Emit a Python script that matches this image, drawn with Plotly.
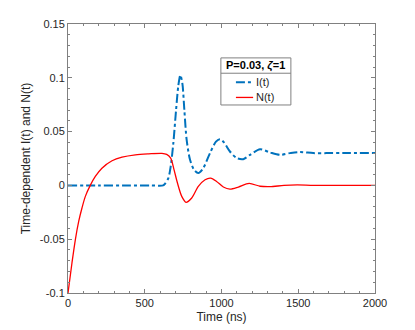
import plotly.graph_objects as go

# Time (ns) and values for N(t)
t_N = [0, 26, 48, 70, 91, 113, 145, 178, 221, 287, 352, 439, 526, 612, 643, 669, 691, 713,
       741, 769, 806, 849, 893, 929, 968, 1012, 1055, 1110, 1180, 1251, 1316, 1407, 1493,
       1600, 1800, 2000]
N_vals = [-0.1, -0.0719, -0.0503, -0.0333, -0.021, -0.0102, 0.0, 0.0083, 0.016, 0.0229,
          0.0262, 0.0284, 0.0293, 0.0298, 0.0288, 0.0254, 0.0145, 0.0022,
          -0.0102, -0.0157, -0.0117, -0.0009, 0.0053, 0.0068, 0.0037, -0.0015, -0.0034,
          -0.0015, 0.0018, -0.0008, -0.0012, 0.0, 0.0004, 0.0, 0.0, 0.0]

# Time (ns) and values for I(t)
t_I = [0, 200, 400, 534, 620, 632, 654, 669, 686, 704, 719, 732, 745, 758, 773, 795, 821,
       849, 881, 925, 964, 990, 1016, 1055, 1099, 1142, 1186, 1251, 1316, 1381, 1446,
       1511, 1598, 1685, 1800, 2000]
I_vals = [0.0, 0.0, 0.0, 0.0, 0.0, 0.0015, 0.0068, 0.0176, 0.039, 0.070, 0.093, 0.1025,
          0.0948, 0.070, 0.0423, 0.0238, 0.0145, 0.0115, 0.016, 0.030, 0.0407, 0.043,
          0.040, 0.0315, 0.0254, 0.0244, 0.0284, 0.0335, 0.0306, 0.0284, 0.030,
          0.031, 0.030, 0.030, 0.030, 0.030]

x_ticks = [0, 500, 1000, 1500, 2000]
y_ticks = [-0.1, -0.05, 0, 0.05, 0.1, 0.15]
y_tick_labels = ["-0.1", "-0.05", "0", "0.05", "0.1", "0.15"]

series_names = ["I(t)", "N(t)"]
series_colors = ["#0072BD", "#FF0000"]
legend_title = "<b>P=0.03, <i>ζ</i>=1</b>"

FONT = "Liberation Sans, Arial, sans-serif"

fig = go.Figure()
fig.add_trace(go.Scatter(x=t_I, y=I_vals, mode="lines", name=series_names[0], showlegend=False,
                         line=dict(color=series_colors[0], width=2, dash="dashdot", shape="spline", smoothing=0.8)))
fig.add_trace(go.Scatter(x=t_N, y=N_vals, mode="lines", name=series_names[1], showlegend=False,
                         line=dict(color=series_colors[1], width=1.3, shape="spline", smoothing=0.8)))

axis_common = dict(showline=True, linecolor="#808080", linewidth=1, mirror="allticks",
                   ticks="inside", ticklen=4, tickcolor="#808080", showgrid=False, zeroline=False,
                   automargin=False,
                   tickfont=dict(family=FONT, size=11, color="#262626"))

fig.update_xaxes(range=[0, 2000], tickvals=x_ticks, ticktext=[str(v) for v in x_ticks],
                 minor=dict(ticks="inside", ticklen=2, tickcolor="#808080", dtick=100, showgrid=False),
                 title=dict(text="Time (ns)", standoff=4,
                            font=dict(family=FONT, size=12, color="#262626")),
                 **axis_common)
fig.update_yaxes(range=[-0.1, 0.15], tickvals=y_ticks, ticktext=y_tick_labels,
                 minor=dict(ticks="inside", ticklen=2, tickcolor="#808080", dtick=0.01, tick0=0, showgrid=False),
                 title=dict(text="Time-dependent I(t) and N(t)", standoff=6,
                            font=dict(family=FONT, size=12, color="#262626")),
                 **axis_common)

# Legend box (drawn in paper coordinates)
lx0, lx1, ly0, ly1, lsep = 0.498, 0.726, 0.699, 0.874, 0.817
fig.add_shape(type="rect", xref="paper", yref="paper", x0=lx0, x1=lx1, y0=ly0, y1=ly1,
              line=dict(color="#808080", width=1), fillcolor="white", layer="above")
fig.add_shape(type="line", xref="paper", yref="paper", x0=lx0, x1=lx1, y0=lsep, y1=lsep,
              line=dict(color="#808080", width=1), layer="above")
fig.add_annotation(xref="paper", yref="paper", x=(lx0 + lx1) / 2, y=(ly1 + lsep) / 2,
                   text=legend_title, showarrow=False, xanchor="center", yanchor="middle",
                   font=dict(family=FONT, size=11, color="black"))
row_y = [0.783, 0.727]
dashes = ["dashdot", "solid"]
widths = [2, 1.3]
for name, color, yy, dsh, w in zip(series_names, series_colors, row_y, dashes, widths):
    fig.add_shape(type="line", xref="paper", yref="paper", x0=0.547, x1=0.603, y0=yy, y1=yy,
                  line=dict(color=color, width=w, dash=dsh), layer="above")
    fig.add_annotation(xref="paper", yref="paper", x=0.607, y=yy, text=name, showarrow=False,
                       xanchor="left", yanchor="middle",
                       font=dict(family=FONT, size=11, color="#262626"))

# The page body adds an 8px offset, so the figure is sized to fit inside the window
fig.update_layout(
    width=407, height=322,
    margin=dict(l=60, r=40, t=16, b=37),
    paper_bgcolor="white", plot_bgcolor="white",
    showlegend=False,
)

fig.write_html("out.html")
